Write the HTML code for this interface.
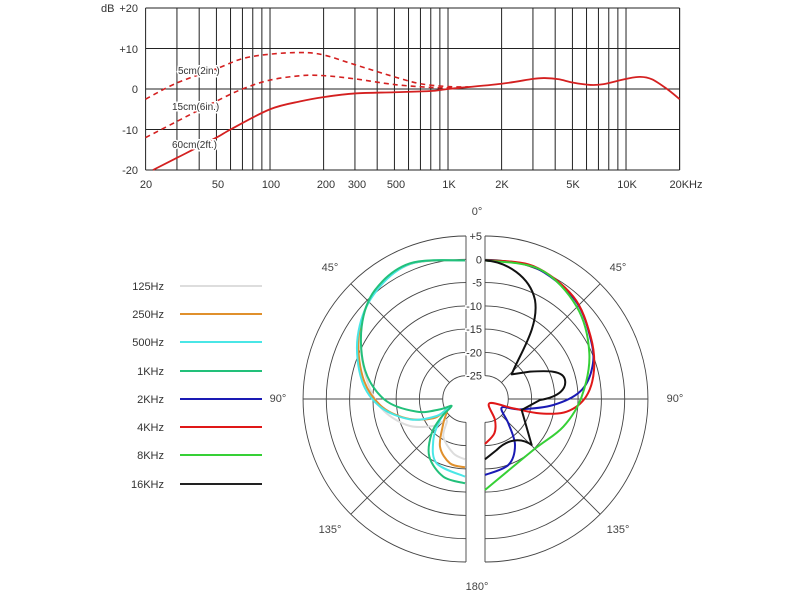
<!DOCTYPE html>
<html><head><meta charset="utf-8"><style>
html,body{margin:0;padding:0;background:#fff;}
svg{display:block;font-family:"Liberation Sans",sans-serif;}
</style></head><body>
<svg id="s" width="800" height="600" viewBox="0 0 800 600" xmlns="http://www.w3.org/2000/svg">
<rect width="800" height="600" fill="#fff"/>
<g id="topg"></g>
<g id="polarg"></g>
<g font-size="11" fill="#333">
<text x="101" y="12">dB</text>
<text x="138" y="12" text-anchor="end">+20</text>
<text x="138" y="53" text-anchor="end">+10</text>
<text x="138" y="93" text-anchor="end">0</text>
<text x="138" y="134" text-anchor="end">-10</text>
<text x="138" y="174" text-anchor="end">-20</text>
</g>
<g font-size="11" fill="#333" text-anchor="middle">
<text x="146" y="188">20</text><text x="218" y="188">50</text><text x="271" y="188">100</text>
<text x="326" y="188">200</text><text x="357" y="188">300</text><text x="396" y="188">500</text>
<text x="449" y="188">1K</text><text x="502" y="188">2K</text><text x="573" y="188">5K</text>
<text x="627" y="188">10K</text><text x="686" y="188">20KHz</text>
</g>
<g id="lbls" font-size="10" fill="#333" stroke="#fff" stroke-width="3" paint-order="stroke">
<text x="178" y="74">5cm(2in.)</text>
<text x="172" y="110">15cm(6in.)</text>
<text x="172" y="148">60cm(2ft.)</text>
</g>
<g font-size="11" fill="#444" text-anchor="middle">
<text x="477" y="215">0°</text><text x="477" y="590">180°</text>
<text x="330" y="271">45°</text><text x="618" y="271">45°</text>
<text x="330" y="533">135°</text><text x="618" y="533">135°</text>
<text x="278" y="402">90°</text><text x="675" y="402">90°</text>
</g>
<g font-size="11" fill="#333" text-anchor="end">
<text x="164" y="290">125Hz</text><text x="164" y="318">250Hz</text>
<text x="164" y="346">500Hz</text><text x="164" y="375">1KHz</text>
<text x="164" y="403">2KHz</text><text x="164" y="431">4KHz</text>
<text x="164" y="459">8KHz</text><text x="164" y="488">16KHz</text>
</g>
<g stroke-width="2">
<line x1="180" x2="262" y1="286" y2="286" stroke="#ddd"/>
<line x1="180" x2="262" y1="314" y2="314" stroke="#e0902c"/>
<line x1="180" x2="262" y1="342" y2="342" stroke="#4ae6e6"/>
<line x1="180" x2="262" y1="371" y2="371" stroke="#22c07a"/>
<line x1="180" x2="262" y1="399" y2="399" stroke="#1a1ab4"/>
<line x1="180" x2="262" y1="427" y2="427" stroke="#e01818"/>
<line x1="180" x2="262" y1="455" y2="455" stroke="#36d036"/>
<line x1="180" x2="262" y1="484" y2="484" stroke="#222"/>
</g>
</svg>
<script>
(function(){
var NS="http://www.w3.org/2000/svg";
function el(p,n,a){var e=document.createElementNS(NS,n);for(var k in a)e.setAttribute(k,a[k]);p.appendChild(e);return e;}
var tg=document.getElementById("topg"),pg=document.getElementById("polarg");
function X(f){return 145.6+178*Math.log10(f/20);}
function Y(d){return 89-4.05*d;}
var fs=[];for(var d=10;d<=10000;d*=10)for(var m=1;m<10;m++){var f=d*m;if(f>=20&&f<=20000)fs.push(f);}fs.push(20000);
fs.forEach(function(f){var x=X(f);el(tg,"line",{x1:x,x2:x,y1:Y(20),y2:Y(-20),stroke:"#222","stroke-width":1});});
[20,10,0,-10,-20].forEach(function(d){el(tg,"line",{x1:X(20),x2:X(20000),y1:Y(d),y2:Y(d),stroke:"#222","stroke-width":1});});
function cr(pts){var s="M"+pts[0][0]+","+pts[0][1];for(var i=0;i<pts.length-1;i++){var p0=pts[i-1]||pts[i],p1=pts[i],p2=pts[i+1],p3=pts[i+2]||p2;
s+=" C"+(p1[0]+(p2[0]-p0[0])/6)+","+(p1[1]+(p2[1]-p0[1])/6)+" "+(p2[0]-(p3[0]-p1[0])/6)+","+(p2[1]-(p3[1]-p1[1])/6)+" "+p2[0]+","+p2[1];}return s;}
function fc(a){return a.map(function(p){return [X(p[0]),Y(p[1])];});}
var solid=[[22,-20],[30,-17],[50,-12],[60,-10],[100,-5],[150,-3],[200,-2],[300,-1.1],[500,-0.8],[800,-0.5],[1000,0],[2000,1.3],[3000,2.5],[3500,2.7],[4200,2.4],[5000,1.6],[6300,1],[7500,1.2],[10000,2.5],[12000,3],[14000,2.4],[17000,0],[20000,-2.5]];
var d5=[[20,-2.5],[30,1.5],[50,5],[70,7.5],[100,8.6],[150,9],[200,8.4],[300,6],[500,3],[700,1.3],[1000,0.6],[1300,0.5]];
var d15=[[20,-12],[30,-8],[50,-3],[70,0],[100,2.2],[150,3.3],[200,3.3],[300,2.5],[500,1.1],[800,0.4],[1100,0.3]];
el(tg,"path",{d:cr(fc(d5)),fill:"none",stroke:"#d42020","stroke-width":1.6,"stroke-dasharray":"5,4"});
el(tg,"path",{d:cr(fc(d15)),fill:"none",stroke:"#d42020","stroke-width":1.6,"stroke-dasharray":"5,4"});
el(tg,"path",{d:cr(fc(solid)),fill:"none",stroke:"#d42020","stroke-width":1.8});
var cy=399,cl=466,cr2=485;
var radii=[163,139.7,116.4,93.1,69.9,46.6,23.3];
radii.forEach(function(r){
 el(pg,"path",{d:"M"+cl+","+(cy-r)+" A"+r+","+r+" 0 0 0 "+cl+","+(cy+r),fill:"none",stroke:"#444","stroke-width":0.9});
 el(pg,"path",{d:"M"+cr2+","+(cy-r)+" A"+r+","+r+" 0 0 1 "+cr2+","+(cy+r),fill:"none",stroke:"#444","stroke-width":0.9});
});
el(pg,"line",{x1:cl-163,x2:cl-23.3,y1:cy,y2:cy,stroke:"#444","stroke-width":0.9});
el(pg,"line",{x1:cr2+23.3,x2:cr2+163,y1:cy,y2:cy,stroke:"#444","stroke-width":0.9});
var c=Math.SQRT1_2;
[[-1,-1],[-1,1]].forEach(function(v){el(pg,"line",{x1:cl+v[0]*23.3*c,y1:cy+v[1]*23.3*c,x2:cl+v[0]*163*c,y2:cy+v[1]*163*c,stroke:"#444","stroke-width":0.9});});
[[1,-1],[1,1]].forEach(function(v){el(pg,"line",{x1:cr2+v[0]*23.3*c,y1:cy+v[1]*23.3*c,x2:cr2+v[0]*163*c,y2:cy+v[1]*163*c,stroke:"#444","stroke-width":0.9});});
[cl,cr2].forEach(function(x){el(pg,"line",{x1:x,x2:x,y1:cy-163,y2:cy-23.3,stroke:"#444","stroke-width":0.9});el(pg,"line",{x1:x,x2:x,y1:cy+23.3,y2:cy+163,stroke:"#444","stroke-width":0.9});});
var labs=["+5","0","-5","-10","-15","-20","-25"];
labs.forEach(function(t,i){var y=cy-radii[i];var tx=el(pg,"text",{x:482,y:y+4,"text-anchor":"end","font-size":"11",fill:"#333",stroke:"#fff","stroke-width":3,"paint-order":"stroke"});tx.textContent=t;});
var g=el(pg,"g",{transform:"translate(300,220) scale(0.33333)"});
function pc(pts,col){el(g,"path",{d:cr(pts),fill:"none",stroke:col,"stroke-width":2,"vector-effect":"non-scaling-stroke","stroke-linejoin":"round"});}
pc([[495,121],[330,132],[225,215],[182,330],[195,460],[240,560],[320,615],[400,618],[440,600],[430,650],[460,700],[495,718]],"#ddd");
pc([[495,121],[330,132],[222,220],[177,340],[188,470],[240,555],[320,595],[400,595],[440,570],[430,610],[420,680],[450,730],[495,742]],"#e0902c");
pc([[495,121],[330,132],[220,225],[173,350],[185,480],[240,560],[330,598],[410,588],[450,560],[420,600],[400,660],[410,730],[495,770]],"#4ae6e6");
pc([[495,121],[330,130],[225,210],[185,320],[195,450],[255,540],[350,575],[420,568],[455,558],[425,590],[395,640],[388,710],[430,770],[495,790]],"#22c07a");
pc([[555,121],[700,140],[825,240],[875,370],[875,450],[840,515],[760,555],[660,568],[605,563],[625,610],[645,675],[625,735],[555,765]],"#1a1ab4");
pc([[555,121],[700,138],[820,230],[872,350],[882,450],[858,530],[800,575],[720,580],[640,565],[568,550],[585,600],[583,640],[555,672]],"#e01818");
pc([[555,121],[720,148],[830,260],[868,400],[845,530],[790,620],[700,690],[555,810]],"#36d036");
el(g,"path",{d:"M555,121 C620,125 690,170 705,240 C718,320 660,400 635,463 L690,455 C740,452 790,450 795,480 C800,505 780,530 720,540 L665,570 L695,675 C660,650 620,660 590,690 L555,718",fill:"none",stroke:"#111","stroke-width":2,"vector-effect":"non-scaling-stroke","stroke-linejoin":"round"});
var s=document.getElementById("s");s.appendChild(document.getElementById("lbls"));
})();
</script>
</body></html>
